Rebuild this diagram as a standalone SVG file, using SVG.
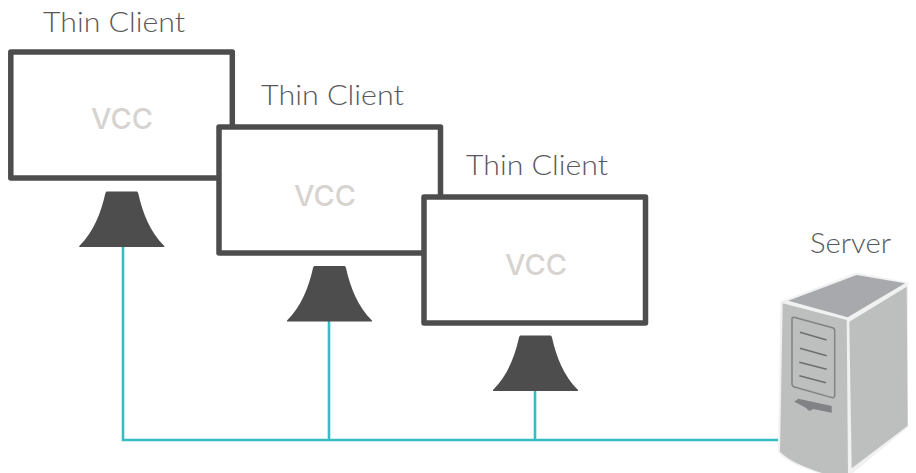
<svg xmlns="http://www.w3.org/2000/svg" width="916" height="473" viewBox="0 0 916 473">
<style>
.screen{fill:#fff;stroke:#4d4d4d;stroke-width:5.5;stroke-linejoin:round}
.stand{fill:#4d4d4d}
.lbl{font-family:"Lato","Liberation Sans",sans-serif;font-weight:300;font-size:27px;fill:#58585a}
.vcc{font-family:"Inter","Liberation Sans",sans-serif;font-weight:500;font-size:29px;fill:#d6d3d0;text-anchor:middle}
.wire{fill:none;stroke:#38bcc4;stroke-width:2.6}
</style>
<defs><path id="st" d="M-14.500 0H14.500C15.500 0 16 .5 16.500 2C21 22 28 40 42.500 54.500V55.500H-42.500V54.500C-28 40 -21 22 -16.500 2C-16 .5 -15.500 0 -14.500 0Z"/></defs>
<rect width="916" height="473" fill="#fff"/>
<g id="connectors">
<path class="wire" d="M123 247V440H778M329 321V440M535 390V440"/>
</g>
<g id="client1">
<text class="lbl" x="43" y="32" textLength="142" lengthAdjust="spacingAndGlyphs">Thin Client</text>
<rect class="screen" x="10.800" y="52" width="221.500" height="126"/>
<text class="vcc" x="122" y="129" textLength="62" lengthAdjust="spacingAndGlyphs">VCC</text>
<use href="#st" class="stand" x="121.800" y="191.500"/>
</g>
<g id="client2">
<text class="lbl" x="261" y="105" textLength="143" lengthAdjust="spacingAndGlyphs">Thin Client</text>
<rect class="screen" x="219" y="127" width="221.500" height="126"/>
<text class="vcc" x="325" y="206" textLength="62" lengthAdjust="spacingAndGlyphs">VCC</text>
<use href="#st" class="stand" x="329.500" y="266"/>
</g>
<g id="client3">
<text class="lbl" x="466" y="175" textLength="142" lengthAdjust="spacingAndGlyphs">Thin Client</text>
<rect class="screen" x="424" y="197" width="221.500" height="126"/>
<text class="vcc" x="536" y="275" textLength="62" lengthAdjust="spacingAndGlyphs">VCC</text>
<use href="#st" class="stand" x="535.500" y="335.500"/>
</g>
<g id="server">
<text class="lbl" x="810" y="253" textLength="81" lengthAdjust="spacingAndGlyphs">Server</text>
<path d="M780.500 301.500L856.700 272.500L908 282.500V427L853 473H818C797 466 784 460 778 452Z" fill="#f1f1f1"/>
<path d="M788.300 300.700L856.700 275L905 283.300L847.700 317.300Z" fill="#a7a9ac"/>
<path d="M782.700 303.300L846.700 320L848 473H822C803 467 788 460 780 451.700Z" fill="#bdbfbe"/>
<path d="M849.300 321.700L906.700 286.700L907.700 425.700L851.700 468.300Z" fill="#bdbfbe"/>
<path d="M794 317.300L832.500 327.700Q834.700 328.300 834.700 331V395Q834.700 398 832 397.600L794.500 387Q792 386.300 792 384V319Q792 317 794 317.300Z" fill="#bdbfbe" stroke="#808285" stroke-width="1.500"/>
<path d="M800 332.300L826.700 340M800 348.300L826.700 355.700M799.300 362.300L826.700 369.300M799.300 375.700L826 382.700" fill="none" stroke="#6d6e71" stroke-width="1.500"/>
<path d="M794.300 401.700L798.300 398.700L831.700 406V412.700L813.300 409L809.300 411L805 407.300Z" fill="#808285"/>
</g>
</svg>
